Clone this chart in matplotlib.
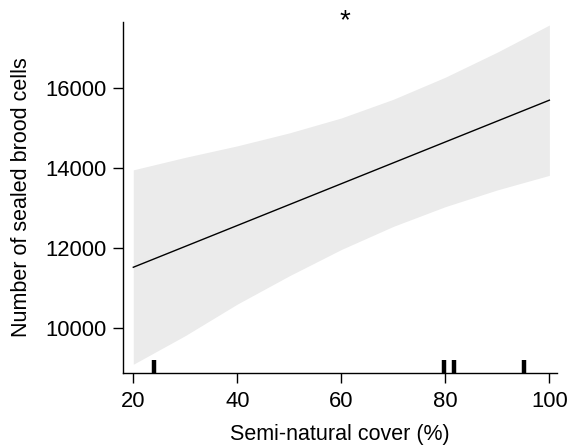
import matplotlib
matplotlib.use("Agg")
import matplotlib.pyplot as plt

plt.rcParams['font.family'] = ['Liberation Sans', 'DejaVu Sans']

# Fitted line
line_x = [20, 100]
line_y = [11514, 15706]

# Confidence band
band_x = [20, 30, 40, 50, 60, 70, 80, 90, 100]
band_upper = [13958, 14272, 14560, 14885, 15260, 15729, 16283, 16912, 17592]
band_lower = [9080, 9800, 10590, 11300, 11960, 12540, 13035, 13455, 13820]

# Rug (observed semi-natural cover values)
rug_x = [23.9, 79.8, 81.6, 95.1]

xticks = [20, 40, 60, 80, 100]
yticks = [10000, 12000, 14000, 16000]

fig = plt.figure(figsize=(5.68, 4.46), dpi=100)
ax = fig.add_axes([0.216, 0.1643, 0.764, 0.7864])

ax.fill_between(band_x, band_lower, band_upper, color='#ebebeb', linewidth=0)
ax.plot(line_x, line_y, color='black', linewidth=1.0)
ax.vlines(rug_x, 0, 0.037, transform=ax.get_xaxis_transform(),
          color='black', linewidth=3.2)

ax.set_xlim(17.96, 101.4)
ax.set_ylim(8868, 17668)
ax.set_xticks(xticks)
ax.set_yticks(yticks)
ax.set_xticklabels([str(v) for v in xticks])
ax.set_yticklabels([str(v) for v in yticks])

for s in ['top', 'right']:
    ax.spines[s].set_visible(False)
for s in ['left', 'bottom']:
    ax.spines[s].set_linewidth(1.0)
    ax.spines[s].set_color('black')

ax.tick_params(axis='both', direction='out', length=7.5, width=1.0,
               labelsize=15.8, colors='black')
ax.tick_params(axis='x', pad=6)
ax.tick_params(axis='y', pad=4)

ax.set_xlabel('Semi-natural cover (%)', fontsize=15.5, labelpad=8)
ax.set_ylabel('Number of sealed brood cells', fontsize=15.5, labelpad=10)

fig.text(345/568, 1 - 21/446, '*', fontsize=20, ha='center', va='center')

fig.savefig('out.png', dpi=100)
